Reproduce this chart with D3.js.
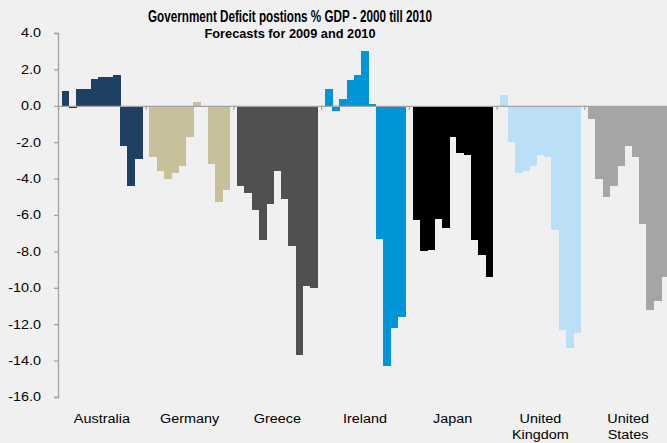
<!DOCTYPE html>
<html>
<head>
<meta charset="utf-8">
<script src="https://cdn.jsdelivr.net/npm/d3@7"></script>
<style>
    body{margin:0;background:#f0f0f0;}
    svg{display:block;background:#f0f0f0;}
    .tick text{font-family:'Liberation Sans',Arial,sans-serif;font-size:12px;fill:#000;}
</style>
</head>
<body>
<div id="graphWrapper"></div>
<script>
//data
const COUNTRIES = ['Australia','Germany','Greece','Ireland','Japan','United Kingdom','United States'];
const YEARS = [2000,2001,2002,2003,2004,2005,2006,2007,2008,2009,2010];

const AUSTRALIA = [0.8,-0.1,0.9,0.9,1.5,1.6,1.6,1.7,-2.2,-4.4,-2.9];
const GERMANY = [-2.8,-3.6,-4.0,-3.7,-3.3,-1.7,0.2,0.0,-3.2,-5.3,-4.6];
const GREECE = [-4.4,-4.8,-5.7,-7.4,-5.4,-3.6,-5.1,-7.7,-13.7,-9.9,-10.0];
const IRELAND = [0.9,-0.3,0.4,1.4,1.7,3.0,0.1,-7.3,-14.3,-12.2,-11.6];
const JAPAN = [-6.3,-8.0,-7.9,-6.2,-6.7,-1.7,-2.6,-2.7,-7.4,-8.2,-9.4];
const UNITED_KINGDOM = [0.6,-2.0,-3.7,-3.6,-3.3,-2.7,-2.8,-6.8,-12.3,-13.3,-12.5];
const UNITED_STATES = [-0.7,-4.0,-5.0,-4.4,-3.3,-2.2,-2.8,-6.5,-11.2,-10.7,-9.4];

const SERIES = [AUSTRALIA,GERMANY,GREECE,IRELAND,JAPAN,UNITED_KINGDOM,UNITED_STATES];
const COLORS = ['#1f3f63','#c8bf9b','#505050','#0096d7','#000000','#bbdff6','#a5a5a5'];

const Y_TICKS = [4,2,0,-2,-4,-6,-8,-10,-12,-14,-16];
const Y_TICK_LABELS = ['4.0','2.0','0.0','-2.0','-4.0','-6.0','-8.0','-10.0','-12.0','-14.0','-16.0'];

//constants
const CONSTANTS = {
    WIDTH:667,
    HEIGHT:443,
    LEFT:58,      //x of the value axis
    RIGHT:672,    //the plot runs past the right edge of the picture
    TOP:33,       //y of 4.0
    BOTTOM:397,   //y of -16.0
    AXIS:'#a3a3a3',
    STRETCH:1.2   //labels in the picture are a bit wider than the font
};

function main(){
    let svg = d3.select('#graphWrapper')
        .append('svg')
        .attr('width',CONSTANTS.WIDTH)
        .attr('height',CONSTANTS.HEIGHT);

    let scales = buildScales();
    buildBars(svg,scales);
    buildAxis(svg,scales);
    buildTitle(svg);

    //widen the axis labels
    svg.selectAll('.stretch').each(function(){
        let w = this.getComputedTextLength();
        d3.select(this)
            .attr('textLength',w * CONSTANTS.STRETCH)
            .attr('lengthAdjust','spacingAndGlyphs');
    });
}

function buildScales(){
    let x = d3.scaleBand()
        .domain(COUNTRIES)
        .range([CONSTANTS.LEFT,CONSTANTS.RIGHT]);

    //bars inside each country, half a bar of space on each side
    let xYear = d3.scaleBand()
        .domain(YEARS)
        .range([0,x.bandwidth()])
        .paddingInner(0)
        .paddingOuter(0.5);

    let y = d3.scaleLinear()
        .domain([-16,4])
        .range([CONSTANTS.BOTTOM,CONSTANTS.TOP]);

    //used for the ticks between the countries
    let edges = d3.scaleLinear()
        .domain([0,COUNTRIES.length])
        .range([CONSTANTS.LEFT,CONSTANTS.RIGHT]);

    return {x:x,xYear:xYear,y:y,edges:edges};
}

function buildBars(svg,scales){
    let groups = svg.selectAll('g.country')
        .data(COUNTRIES)
        .enter()
        .append('g')
        .attr('class','country')
        .attr('transform',d=>'translate(' + scales.x(d) + ',0)')
        .style('fill',(d,i)=>COLORS[i]);

    groups.selectAll('rect')
        .data((d,i)=>SERIES[i].map((v,j)=>({year:YEARS[j],value:v})))
        .enter()
        .append('rect')
        .attr('x',d=>scales.xYear(d.year))
        .attr('width',scales.xYear.bandwidth() + 0.5)
        .attr('y',d=>scales.y(Math.max(0,d.value)))
        .attr('height',d=>Math.abs(scales.y(d.value) - scales.y(0)))
        .attr('shape-rendering','crispEdges');
}

function buildAxis(svg,scales){
    let yAxis = d3.axisLeft(scales.y)
        .tickValues(Y_TICKS)
        .tickFormat((d,i)=>Y_TICK_LABELS[i])
        .tickSize(4)
        .tickSizeOuter(4)
        .tickPadding(13);

    let g = svg.append('g')
        .attr('transform','translate(' + CONSTANTS.LEFT + ',0)')
        .call(yAxis);
    g.selectAll('path,line').attr('stroke',CONSTANTS.AXIS).attr('stroke-width',1.3);
    g.selectAll('.tick text').classed('stretch',true);

    //zero line with ticks between the countries
    let xAxis = d3.axisBottom(scales.edges)
        .tickValues(d3.range(COUNTRIES.length + 1))
        .tickFormat('')
        .tickSize(4)
        .tickSizeOuter(0);

    let gx = svg.append('g')
        .attr('transform','translate(0,' + scales.y(0) + ')')
        .call(xAxis);
    gx.selectAll('path,line').attr('stroke',CONSTANTS.AXIS).attr('stroke-width',1.3);

    //country names under the plot
    let names = d3.axisBottom(scales.x)
        .tickSize(0)
        .tickPadding(0)
        .tickFormat('');

    let gn = svg.append('g')
        .attr('transform','translate(0,' + 411 + ')')
        .call(names);
    gn.select('.domain').remove();

    gn.selectAll('.tick').append('text')
        .attr('text-anchor','middle')
        .selectAll('tspan')
        .data(d=>d.split(' '))
        .enter()
        .append('tspan')
        .attr('class','stretch')
        .attr('x',0)
        .attr('y',(d,i)=>12 + i*16)
        .text(d=>d);
}

function buildTitle(svg){
    svg.append('text')
        .text('Government Deficit postions % GDP - 2000 till 2010')
        .attr('x',290)
        .attr('y',22)
        .attr('text-anchor','middle')
        .attr('textLength',284)
        .attr('lengthAdjust','spacingAndGlyphs')
        .style('font-family',"'Liberation Sans',Arial,sans-serif")
        .style('font-weight','bold')
        .style('font-size','16px');

    svg.append('text')
        .text('Forecasts for 2009 and 2010')
        .attr('x',290)
        .attr('y',38)
        .attr('text-anchor','middle')
        .attr('textLength',171)
        .attr('lengthAdjust','spacingAndGlyphs')
        .style('font-family',"'Liberation Sans',Arial,sans-serif")
        .style('font-weight','bold')
        .style('font-size','12px');
}

main();
</script>
</body>
</html>
